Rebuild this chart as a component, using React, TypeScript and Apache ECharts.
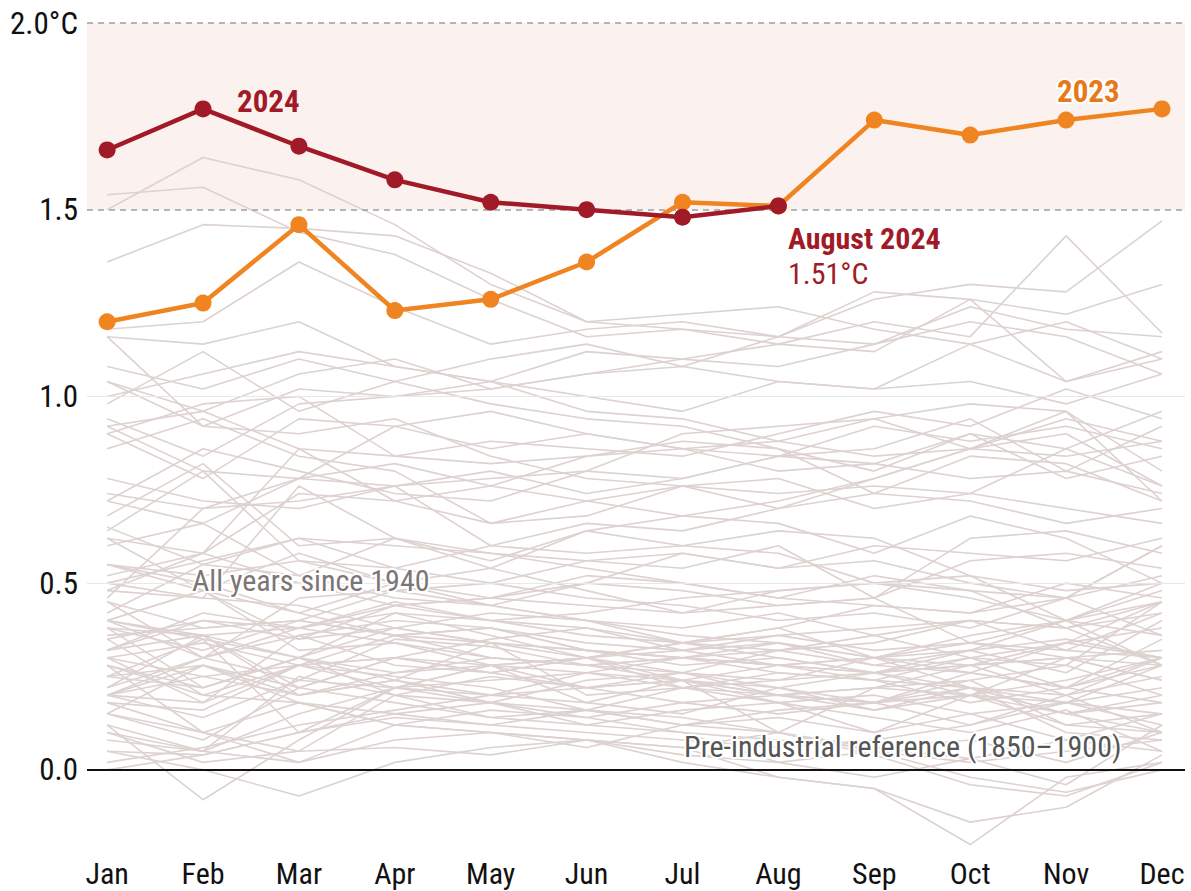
import React, { useEffect, useRef } from "react";
import * as echarts from "echarts";

const MONTHS = ["Jan", "Feb", "Mar", "Apr", "May", "Jun", "Jul", "Aug", "Sep", "Oct", "Nov", "Dec"];
const Y_TICKS = [0, 0.5, 1.0, 1.5, 2.0];

// Monthly anomalies vs 1850–1900 (°C)
const YEAR_2024 = [1.66, 1.77, 1.67, 1.58, 1.52, 1.5, 1.48, 1.51];
const YEAR_2023 = [1.2, 1.25, 1.46, 1.23, 1.26, 1.36, 1.52, 1.51, 1.74, 1.7, 1.74, 1.77];

// All years 1940–2022
const PAST_YEARS: number[][] = [
  [0.12, -0.08, 0.08, 0.22, 0.28, 0.3, 0.26, 0.22, 0.18, 0.26, 0.22, 0.35],
  [0.4, 0.35, 0.3, 0.38, 0.42, 0.4, 0.36, 0.34, 0.3, 0.28, 0.34, 0.38],
  [0.45, 0.3, 0.36, 0.4, 0.38, 0.32, 0.3, 0.28, 0.26, 0.2, 0.24, 0.3],
  [0.22, 0.3, 0.24, 0.35, 0.33, 0.28, 0.3, 0.32, 0.36, 0.4, 0.38, 0.45],
  [0.55, 0.48, 0.42, 0.5, 0.46, 0.44, 0.42, 0.48, 0.5, 0.46, 0.4, 0.36],
  [0.4, 0.36, 0.3, 0.42, 0.36, 0.3, 0.34, 0.38, 0.3, 0.26, 0.22, 0.18],
  [0.3, 0.25, 0.2, 0.24, 0.18, 0.16, 0.22, 0.18, 0.14, 0.1, 0.16, 0.05],
  [0.2, 0.18, 0.28, 0.3, 0.26, 0.22, 0.24, 0.2, 0.22, 0.28, 0.3, 0.24],
  [0.28, 0.1, 0.05, 0.2, 0.25, 0.22, 0.18, 0.15, 0.18, 0.2, 0.12, 0.15],
  [0.35, 0.2, 0.28, 0.25, 0.22, 0.16, 0.12, 0.14, 0.1, 0.15, 0.08, 0.05],
  [0.0, 0.04, 0.1, 0.15, 0.18, 0.12, 0.1, 0.08, 0.06, 0.03, -0.04, 0.12],
  [0.1, 0.05, 0.15, 0.22, 0.28, 0.3, 0.32, 0.36, 0.38, 0.4, 0.32, 0.42],
  [0.38, 0.36, 0.22, 0.3, 0.28, 0.26, 0.24, 0.28, 0.3, 0.22, 0.2, 0.25],
  [0.35, 0.4, 0.38, 0.45, 0.4, 0.38, 0.34, 0.36, 0.32, 0.34, 0.3, 0.28],
  [0.2, 0.28, 0.18, 0.15, 0.12, 0.1, 0.08, 0.06, 0.08, 0.12, 0.2, 0.1],
  [0.18, 0.1, 0.02, 0.12, 0.1, 0.08, 0.06, 0.1, 0.04, -0.04, -0.07, 0.02],
  [0.05, 0.0, -0.07, 0.02, 0.06, 0.08, 0.04, 0.02, -0.02, 0.03, 0.08, 0.15],
  [0.15, 0.28, 0.22, 0.3, 0.35, 0.38, 0.32, 0.34, 0.3, 0.36, 0.4, 0.48],
  [0.55, 0.5, 0.42, 0.36, 0.38, 0.32, 0.3, 0.28, 0.26, 0.32, 0.35, 0.3],
  [0.38, 0.32, 0.4, 0.36, 0.3, 0.28, 0.3, 0.26, 0.24, 0.18, 0.22, 0.28],
  [0.25, 0.35, 0.1, 0.22, 0.24, 0.26, 0.22, 0.24, 0.26, 0.28, 0.2, 0.3],
  [0.32, 0.4, 0.35, 0.38, 0.34, 0.32, 0.28, 0.3, 0.26, 0.3, 0.28, 0.2],
  [0.3, 0.34, 0.28, 0.3, 0.26, 0.3, 0.24, 0.22, 0.26, 0.28, 0.3, 0.24],
  [0.22, 0.36, 0.2, 0.24, 0.2, 0.22, 0.26, 0.32, 0.34, 0.4, 0.38, 0.28],
  [0.28, 0.2, 0.18, 0.12, 0.1, 0.08, 0.02, -0.02, -0.05, -0.2, -0.02, 0.02],
  [0.15, 0.1, 0.18, 0.12, 0.16, 0.14, 0.18, 0.2, 0.16, 0.22, 0.15, 0.2],
  [0.2, 0.25, 0.28, 0.22, 0.18, 0.24, 0.26, 0.2, 0.18, 0.12, 0.18, 0.15],
  [0.15, 0.08, 0.22, 0.18, 0.14, 0.12, 0.16, 0.18, 0.1, 0.2, 0.15, 0.18],
  [0.08, 0.05, 0.25, 0.2, 0.14, 0.16, 0.12, 0.16, 0.18, 0.24, 0.12, 0.1],
  [0.18, 0.16, 0.28, 0.36, 0.38, 0.34, 0.32, 0.28, 0.3, 0.32, 0.4, 0.45],
  [0.4, 0.48, 0.32, 0.34, 0.28, 0.22, 0.24, 0.18, 0.2, 0.15, 0.18, 0.12],
  [0.12, 0.05, 0.02, 0.08, 0.1, 0.06, 0.12, 0.1, 0.06, 0.08, 0.02, 0.1],
  [0.02, 0.06, 0.12, 0.16, 0.2, 0.26, 0.3, 0.34, 0.28, 0.32, 0.26, 0.4],
  [0.42, 0.55, 0.52, 0.46, 0.44, 0.4, 0.34, 0.3, 0.26, 0.22, 0.1, 0.08],
  [0.05, 0.04, 0.1, 0.14, 0.12, 0.16, 0.14, 0.1, 0.05, 0.02, 0.05, 0.08],
  [0.25, 0.22, 0.3, 0.2, 0.18, 0.14, 0.1, 0.02, 0.05, -0.02, -0.06, 0.0],
  [0.1, 0.02, 0.05, 0.06, 0.04, 0.08, 0.06, -0.02, -0.05, -0.14, -0.1, 0.04],
  [0.2, 0.3, 0.38, 0.42, 0.4, 0.36, 0.34, 0.32, 0.28, 0.26, 0.34, 0.3],
  [0.28, 0.22, 0.3, 0.26, 0.28, 0.18, 0.24, 0.1, 0.22, 0.2, 0.3, 0.32],
  [0.3, 0.18, 0.36, 0.28, 0.26, 0.3, 0.34, 0.38, 0.44, 0.42, 0.46, 0.6],
  [0.45, 0.38, 0.4, 0.48, 0.5, 0.46, 0.44, 0.4, 0.42, 0.38, 0.46, 0.36],
  [0.62, 0.48, 0.58, 0.5, 0.44, 0.4, 0.38, 0.42, 0.36, 0.3, 0.34, 0.45],
  [0.25, 0.28, 0.2, 0.26, 0.3, 0.28, 0.24, 0.2, 0.22, 0.24, 0.28, 0.45],
  [0.55, 0.52, 0.56, 0.5, 0.54, 0.48, 0.42, 0.44, 0.46, 0.34, 0.4, 0.28],
  [0.38, 0.22, 0.3, 0.24, 0.34, 0.2, 0.22, 0.26, 0.24, 0.22, 0.15, 0.1],
  [0.2, 0.14, 0.24, 0.22, 0.2, 0.18, 0.15, 0.22, 0.16, 0.2, 0.18, 0.22],
  [0.32, 0.36, 0.38, 0.34, 0.3, 0.28, 0.26, 0.24, 0.3, 0.34, 0.32, 0.3],
  [0.4, 0.48, 0.35, 0.44, 0.46, 0.5, 0.58, 0.54, 0.56, 0.5, 0.46, 0.6],
  [0.65, 0.55, 0.62, 0.6, 0.58, 0.54, 0.5, 0.46, 0.52, 0.48, 0.38, 0.42],
  [0.32, 0.42, 0.38, 0.44, 0.4, 0.42, 0.46, 0.48, 0.5, 0.52, 0.4, 0.5],
  [0.5, 0.46, 0.76, 0.62, 0.58, 0.56, 0.54, 0.6, 0.46, 0.62, 0.64, 0.58],
  [0.6, 0.66, 0.52, 0.62, 0.54, 0.64, 0.6, 0.58, 0.5, 0.48, 0.46, 0.52],
  [0.48, 0.46, 0.44, 0.38, 0.34, 0.3, 0.22, 0.2, 0.18, 0.22, 0.18, 0.28],
  [0.36, 0.38, 0.4, 0.36, 0.34, 0.32, 0.3, 0.28, 0.24, 0.3, 0.22, 0.3],
  [0.4, 0.3, 0.46, 0.48, 0.44, 0.5, 0.48, 0.44, 0.46, 0.56, 0.58, 0.54],
  [0.68, 0.82, 0.6, 0.62, 0.56, 0.64, 0.68, 0.66, 0.58, 0.68, 0.62, 0.5],
  [0.48, 0.58, 0.5, 0.44, 0.46, 0.52, 0.5, 0.46, 0.44, 0.42, 0.5, 0.46],
  [0.5, 0.56, 0.62, 0.54, 0.6, 0.66, 0.64, 0.7, 0.78, 0.86, 0.84, 0.88],
  [0.98, 1.12, 0.96, 1.04, 0.98, 0.94, 0.92, 0.86, 0.74, 0.72, 0.66, 0.7],
  [0.64, 0.8, 0.56, 0.54, 0.5, 0.56, 0.58, 0.54, 0.6, 0.58, 0.56, 0.62],
  [0.46, 0.7, 0.72, 0.76, 0.6, 0.58, 0.6, 0.64, 0.62, 0.52, 0.48, 0.5],
  [0.62, 0.58, 0.74, 0.72, 0.76, 0.72, 0.76, 0.78, 0.7, 0.74, 0.86, 0.76],
  [0.9, 0.98, 1.0, 0.84, 0.82, 0.84, 0.86, 0.8, 0.82, 0.78, 0.8, 0.74],
  [0.92, 0.8, 0.78, 0.76, 0.8, 0.74, 0.78, 0.84, 0.86, 0.94, 0.8, 0.92],
  [0.86, 0.94, 0.84, 0.8, 0.66, 0.72, 0.68, 0.72, 0.78, 0.86, 0.9, 0.76],
  [0.9, 0.78, 0.94, 0.92, 0.86, 0.9, 0.86, 0.84, 0.92, 0.88, 0.92, 0.86],
  [0.72, 0.86, 0.8, 0.74, 0.72, 0.8, 0.78, 0.84, 0.82, 0.9, 0.86, 0.96],
  [1.16, 0.92, 0.9, 0.94, 0.84, 0.78, 0.76, 0.74, 0.76, 0.74, 0.7, 0.66],
  [0.52, 0.58, 0.86, 0.72, 0.66, 0.68, 0.76, 0.7, 0.74, 0.84, 0.82, 0.72],
  [0.78, 0.72, 0.7, 0.76, 0.78, 0.8, 0.9, 0.92, 0.94, 0.86, 0.94, 0.88],
  [1.0, 1.06, 1.12, 1.08, 1.04, 0.96, 0.94, 0.88, 0.84, 0.86, 0.96, 0.72],
  [0.72, 0.66, 0.78, 0.82, 0.76, 0.84, 0.88, 0.86, 0.8, 0.9, 0.78, 0.84],
  [0.74, 0.7, 0.78, 0.92, 0.96, 0.9, 0.86, 0.88, 0.94, 0.98, 0.96, 0.8],
  [0.92, 0.96, 0.86, 0.84, 0.88, 0.86, 0.84, 0.9, 0.96, 0.92, 1.02, 0.94],
  [0.94, 0.84, 0.98, 1.0, 1.04, 1.0, 0.96, 1.04, 1.02, 1.04, 0.98, 1.06],
  [1.08, 1.02, 1.1, 1.04, 1.1, 1.14, 1.08, 1.16, 1.26, 1.3, 1.28, 1.47],
  [1.5, 1.64, 1.58, 1.46, 1.3, 1.2, 1.22, 1.24, 1.18, 1.14, 1.2, 1.1],
  [1.36, 1.46, 1.45, 1.43, 1.33, 1.2, 1.18, 1.16, 1.14, 1.24, 1.18, 1.16],
  [1.04, 0.96, 1.06, 1.1, 1.02, 1.06, 1.08, 1.04, 1.02, 1.14, 1.04, 1.1],
  [1.18, 1.2, 1.36, 1.24, 1.14, 1.18, 1.2, 1.16, 1.28, 1.26, 1.22, 1.3],
  [1.54, 1.56, 1.44, 1.38, 1.26, 1.16, 1.18, 1.14, 1.2, 1.16, 1.43, 1.17],
  [1.04, 0.92, 1.02, 1.0, 1.02, 1.06, 1.1, 1.08, 1.14, 1.2, 1.16, 1.06],
  [1.16, 1.14, 1.2, 1.08, 1.04, 1.12, 1.1, 1.14, 1.12, 1.26, 1.04, 1.12],
];

const FONT = "'Roboto Condensed', 'Liberation Sans Narrow', 'DejaVu Sans Condensed', Roboto, sans-serif";
const RED = "#a01b27";
const ORANGE = "#ef8420";
const GREY_LINE = "#ddd2cf";

const toPoints = (vals: number[]) => vals.map((v, i) => [i, v]);

export default function App() {
  const ref = useRef<HTMLDivElement>(null);
  useEffect(() => {
    if (!ref.current) return;
    const chart = echarts.init(ref.current, null, { renderer: "svg" });
    const pastSeries = PAST_YEARS.map((vals, k) => ({
      type: "line",
      name: String(1940 + k),
      data: toPoints(vals),
      symbol: "none",
      silent: true,
      clip: false,
      z: 2,
      lineStyle: { color: GREY_LINE, width: 1.6 },
    }));
    chart.setOption({
      animation: false,
      grid: { left: 87, right: 6, top: 23, bottom: 39 },
      xAxis: {
        type: "value",
        min: -0.21,
        max: 11.24,
        axisLine: { show: false },
        axisTick: { show: false },
        splitLine: { show: false },
        axisLabel: {
          customValues: MONTHS.map((_, i) => i),
          formatter: (v: number) => MONTHS[Math.round(v)] ?? "",
          fontFamily: FONT,
          fontSize: 30,
          lineHeight: 30,
          color: "#111",
          margin: 6,
        },
      },
      yAxis: {
        type: "value",
        min: -0.22,
        max: 2.0,
        axisLine: { show: false },
        axisTick: { show: false },
        splitLine: { show: false },
        axisLabel: {
          customValues: Y_TICKS,
          formatter: (v: number) => (Math.abs(v - 2) < 1e-6 ? "2.0°C" : v.toFixed(1)),
          fontFamily: FONT,
          fontSize: 31,
          color: "#111",
          margin: 9,
        },
      },
      series: [
        {
          type: "line",
          data: [],
          silent: true,
          z: 1,
          markArea: {
            silent: true,
            itemStyle: { color: "#fbf1ee" },
            data: [[{ yAxis: 1.5 }, { yAxis: 2.0 }]],
          },
          markLine: {
            silent: true,
            symbol: "none",
            label: { show: false },
            data: [
              { yAxis: 0.5, lineStyle: { color: "#e8e8e8", width: 1.2, type: "solid" } },
              { yAxis: 1.0, lineStyle: { color: "#e8e8e8", width: 1.2, type: "solid" } },
            ],
          },
        },
        ...pastSeries,
        {
          type: "line",
          data: [],
          silent: true,
          z: 3,
          markLine: {
            silent: true,
            symbol: "none",
            label: { show: false },
            data: [
              { yAxis: 1.5, lineStyle: { color: "#9e9e9e", width: 1.6, type: [6, 5] } },
              { yAxis: 2.0, lineStyle: { color: "#9e9e9e", width: 1.6, type: [6, 5] } },
              { yAxis: 0, lineStyle: { color: "#111", width: 2, type: "solid" } },
            ],
          },
        },
        {
          type: "line",
          name: "2023",
          data: toPoints(YEAR_2023),
          z: 5,
          symbol: "circle",
          symbolSize: 17,
          lineStyle: { color: ORANGE, width: 4.5 },
          itemStyle: { color: ORANGE },
        },
        {
          type: "line",
          name: "2024",
          data: toPoints(YEAR_2024),
          z: 6,
          symbol: "circle",
          symbolSize: 17,
          lineStyle: { color: RED, width: 4.5 },
          itemStyle: { color: RED },
        },
      ],
      graphic: [
        {
          type: "text",
          z: 10,
          style: {
            text: "2024", x: 237, y: 101, fill: RED, textVerticalAlign: "middle",
            font: `bold 31px ${FONT}`, stroke: "#fbf1ee", lineWidth: 4,
          },
        },
        {
          type: "text",
          z: 10,
          style: {
            text: "2023", x: 1057, y: 91, fill: "#e57a1c", textVerticalAlign: "middle",
            font: `bold 31px ${FONT}`, stroke: "#fff", lineWidth: 4,
          },
        },
        {
          type: "text",
          z: 10,
          style: {
            text: "August 2024", x: 788, y: 238, fill: RED, textVerticalAlign: "middle",
            font: `bold 30px ${FONT}`, stroke: "#fff", lineWidth: 4,
          },
        },
        {
          type: "text",
          z: 10,
          style: {
            text: "1.51°C", x: 788, y: 273, fill: RED, textVerticalAlign: "middle",
            font: `30px ${FONT}`, stroke: "#fff", lineWidth: 4,
          },
        },
        {
          type: "text",
          z: 10,
          style: {
            text: "All years since 1940", x: 192, y: 580, fill: "#7d7575", textVerticalAlign: "middle",
            font: `30px ${FONT}`, stroke: "#fff", lineWidth: 4,
          },
        },
        {
          type: "text",
          z: 10,
          style: {
            text: "Pre-industrial reference (1850–1900)", x: 684, y: 746, fill: "#555", textVerticalAlign: "middle",
            font: `30px ${FONT}`, stroke: "#fff", lineWidth: 4,
          },
        },
      ],
    });
    return () => chart.dispose();
  }, []);
  return (
    <div
      ref={ref}
      style={{ position: "absolute", left: 0, top: 0, width: 1191, height: 891, background: "#fff" }}
    />
  );
}
